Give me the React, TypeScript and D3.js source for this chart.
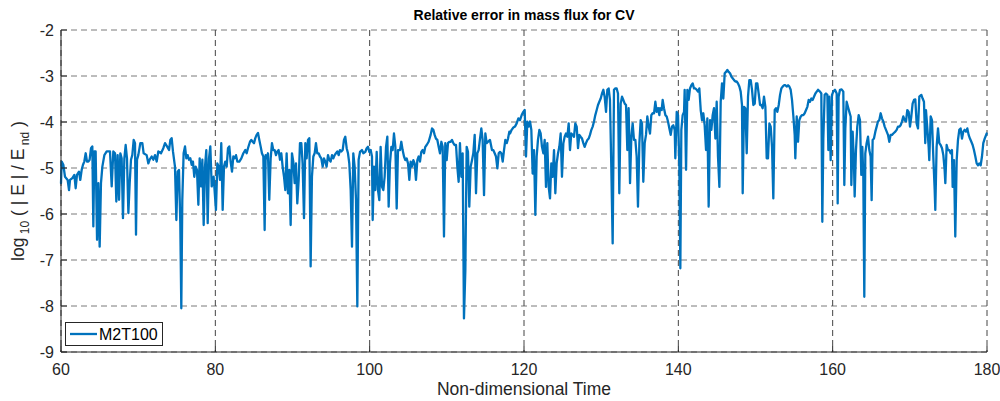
import React from "react";
import * as d3 from "d3";

// Time samples (non-dimensional time) and log10(|E|/E_nd) values
const timeA = [60,60.09,60.3,60.52,60.86,61.04,61.17,61.47,61.73,61.9,62.07,62.33,62.5,62.68,62.85,63.02,63.2,63.37,63.54,63.71,63.89,64.06,64.19,64.32,64.49,64.67,64.84,65.01,65.18,65.36,65.62,65.92,66.35,66.57,66.78,67.0,67.17,67.34,67.52,67.69,67.86,68.03,68.21,68.38,68.55,68.73,68.9,69.07,69.24,69.42,69.59,69.72,69.85,70.02,70.28,70.54,70.71,71.1,71.32,71.49,71.75,71.97,72.18,72.4,72.61,72.96,73.26,73.48,73.74,74.0,74.17,74.34,74.51,74.77,74.95,75.12,75.29,75.46,75.59,75.72,75.89,76.07,76.24,76.41,76.58,76.76,76.93,77.1,77.27,77.45,77.62,77.8,77.97,78.14,78.32,78.49,78.66,78.83,79.01,79.18,79.35,79.53,79.78];
const valueA = [-5.33,-4.86,-4.93,-5.19,-5.26,-5.48,-5.26,-5.22,-5.15,-5.44,-5.15,-5.08,-5.26,-5.04,-4.93,-4.86,-4.68,-4.86,-4.86,-4.82,-4.57,-4.53,-6.27,-4.64,-4.64,-6.56,-5.33,-6.71,-5.33,-4.97,-4.72,-4.64,-4.64,-5.4,-4.64,-4.68,-5.73,-4.72,-5.69,-4.68,-4.79,-6.09,-4.79,-4.5,-4.79,-5.98,-5.33,-4.82,-4.72,-4.39,-4.46,-6.45,-4.82,-4.72,-4.46,-4.46,-4.68,-4.72,-4.9,-4.82,-4.75,-4.82,-4.72,-4.86,-4.64,-4.68,-4.57,-4.46,-4.53,-4.61,-4.39,-4.35,-4.64,-4.97,-6.13,-5.08,-5.04,-6.2,-8.05,-5.69,-4.68,-4.53,-4.79,-4.72,-4.82,-4.79,-4.93,-4.86,-5.19,-4.97,-5.04,-5.8,-4.79,-5.4,-4.82,-6.24,-4.97,-4.61,-6.2,-4.79,-4.53,-5.4,-5.19];

const timeB = [80.08,80.26,80.43,80.6,80.77,80.95,81.12,81.29,81.47,81.64,81.81,81.98,82.16,82.33,82.5,82.68,82.85,83.11,83.37,83.63,83.88,84.06,84.23,84.49,84.66,84.83,85.01,85.18,85.35,85.53,85.7,85.87,86.04,86.22,86.39,86.52,86.65,86.82,86.99,87.17,87.34,87.51,87.69,87.86,88.03,88.2,88.38,88.55,88.72,88.9,89.07,89.24,89.41,89.59,89.76,89.93,90.1,90.28,90.45,90.62,90.8,90.97,91.14,91.31,91.49,91.66,91.83,92.01,92.18,92.35,92.52,92.7,92.87,93.04,93.21,93.39,93.56,93.73,93.91,94.08,94.25,94.42,94.6,94.77,94.94,95.12,95.29,95.46,95.63,95.81,95.98,96.15,96.33,96.5,96.67,96.84,97.02,97.19,97.36,97.54,97.71,97.88,98.05,98.23,98.4,98.57];
const valueB = [-5.91,-4.9,-4.97,-5.26,-4.46,-5.91,-4.97,-4.86,-4.97,-4.57,-4.53,-4.86,-5.08,-4.75,-4.79,-4.72,-4.86,-4.86,-4.79,-4.68,-4.61,-4.68,-4.57,-4.43,-4.39,-4.43,-4.46,-4.35,-4.28,-4.24,-4.39,-4.53,-4.68,-4.75,-6.35,-4.72,-4.79,-4.68,-5.69,-4.79,-4.46,-4.61,-4.61,-4.72,-4.64,-4.61,-4.82,-4.68,-4.97,-5.19,-5.48,-4.68,-5.55,-5.04,-6.24,-4.68,-4.86,-5.33,-4.9,-5.77,-5.26,-4.46,-4.46,-4.9,-6.09,-4.46,-4.79,-4.39,-4.35,-7.14,-5.19,-4.75,-4.68,-4.46,-4.68,-4.68,-4.75,-4.79,-4.97,-4.79,-4.86,-4.97,-4.72,-4.82,-4.86,-4.72,-4.79,-4.72,-4.68,-4.64,-4.72,-4.61,-4.64,-4.61,-4.39,-4.32,-4.57,-4.68,-4.9,-5.48,-6.71,-4.68,-4.97,-5.69,-8.01,-4.82];

const timeC = [98.75,99.0,99.18,99.44,99.61,99.78,99.96,100.13,100.3,100.39,100.56,100.73,100.91,101.08,101.25,101.42,101.6,101.77,101.94,102.12,102.29,102.46,102.63,102.81,102.98,103.15,103.33,103.5,103.67,103.93,104.1,104.27,104.45,104.62,104.79,104.97,105.14,105.31,105.48,105.66,105.83,106.0,106.18,106.35,106.52,106.69,106.87,107.04,107.21,107.39,107.64,107.9,108.08,108.25,108.42,108.59,108.77,108.94,109.11,109.29,109.46,109.63,109.8,109.98,110.15,110.32,110.5,110.67,110.84,111.01,111.19,111.36,111.53,111.7,111.88,112.05,112.22,112.4,112.57,112.74,112.91,113.09,113.26,113.43,113.61,113.78,113.95,114.12,114.3,114.47,114.64,114.82,114.99,115.16,115.33,115.59,115.85,116.03,116.2,116.37,116.55,116.72,116.89,117.06,117.24,117.41,117.58,117.76,117.93,118.1];
const valueC = [-4.65,-4.61,-4.68,-4.65,-4.57,-4.54,-4.65,-4.61,-4.75,-6.13,-4.97,-5.48,-4.65,-5.48,-5.7,-4.54,-5.41,-5.48,-5.19,-4.54,-4.32,-5.84,-4.9,-4.54,-4.61,-4.25,-4.54,-5.88,-4.61,-4.61,-4.43,-4.61,-4.75,-4.83,-4.79,-4.9,-5.26,-4.86,-4.97,-4.83,-4.9,-5.26,-4.83,-4.75,-4.86,-4.65,-4.61,-4.68,-4.54,-4.5,-4.43,-4.28,-4.14,-4.17,-4.28,-4.36,-4.39,-4.54,-4.68,-4.43,-4.54,-6.49,-4.46,-4.83,-4.46,-4.43,-4.43,-4.39,-4.46,-4.5,-4.5,-4.97,-5.3,-4.46,-5.19,-4.68,-8.27,-7.22,-4.54,-4.65,-5.84,-4.97,-4.83,-4.68,-4.28,-5.55,-4.68,-4.61,-4.36,-4.14,-4.39,-5.59,-4.25,-4.46,-4.43,-4.39,-4.61,-4.61,-4.68,-4.75,-5.01,-4.68,-4.65,-4.68,-4.86,-4.61,-4.39,-4.46,-4.36,-4.21];

const timeD = [118.19,118.4,118.62,118.83,119.05,119.27,119.48,119.7,119.91,120.09,120.26,120.43,120.6,120.78,120.95,121.12,121.3,121.47,121.64,121.81,121.99,122.16,122.33,122.51,122.68,122.85,123.02,123.2,123.37,123.54,123.72,123.89,124.06,124.23,124.41,124.58,124.75,124.92,125.1,125.27,125.44,125.62,125.79,125.96,126.13,126.31,126.48,126.65,126.83,127.0,127.17,127.34,127.52,127.69,127.86,128.03,128.21,128.38,128.55,128.73,128.9,129.07,129.24,129.42,129.59,129.76,129.94,130.11,130.28,130.45,130.63,130.8,130.97,131.14,131.32,131.49,131.66,131.84,132.01,132.18,132.35,132.53,132.7,132.87,133.05,133.22,133.39,133.56,133.74,133.91,134.08,134.25,134.43,134.6,134.77,134.95,135.12,135.29,135.46,135.64,135.81,135.98,136.16,136.33,136.5,136.67,136.85,137.02,137.19,137.37,137.54];
const valueD = [-4.25,-4.17,-4.12,-4.1,-4.03,-3.92,-3.96,-3.85,-3.78,-3.74,-4.75,-3.99,-4.1,-3.99,-4.17,-5.12,-4.61,-6.02,-4.75,-4.39,-4.17,-4.25,-4.54,-4.68,-4.39,-5.41,-4.46,-5.41,-5.66,-4.9,-5.19,-4.61,-5.55,-4.9,-4.68,-4.54,-4.25,-5.19,-4.46,-4.32,-4.25,-4.32,-4.03,-4.61,-4.25,-4.28,-4.32,-4.03,-4.1,-4.57,-4.28,-4.32,-4.36,-4.46,-4.54,-4.46,-4.39,-4.36,-4.28,-4.17,-4.1,-3.99,-3.85,-3.74,-3.63,-3.56,-3.49,-3.38,-3.3,-3.45,-3.78,-3.3,-3.27,-3.52,-5.04,-6.64,-3.3,-3.27,-3.27,-3.38,-5.55,-3.6,-3.45,-3.52,-3.6,-3.63,-4.61,-3.7,-5.33,-4.32,-4.03,-4.39,-4.39,-4.75,-5.84,-4.46,-3.96,-4.03,-5.3,-4.46,-4.28,-3.88,-4.1,-4.25,-3.85,-3.81,-3.81,-3.56,-3.78,-3.7,-3.85];

const timeE = [137.63,137.84,137.97,138.14,138.32,138.49,138.66,138.84,139.01,139.18,139.35,139.53,139.61,139.79,139.96,140.13,140.26,140.39,140.56,140.74,140.82,141.0,141.17,141.34,141.51,141.69,141.86,142.03,142.21,142.38,142.55,142.72,142.9,143.07,143.24,143.41,143.59,143.76,143.93,144.11,144.28,144.45,144.62,144.8,144.97,145.14,145.32,145.49,145.66,145.83,146.01,146.18,146.35,146.52,146.7,146.87,147.04,147.22,147.39,147.56,147.73,147.91,148.08,148.25,148.34,148.51,148.69,148.86,149.03,149.2,149.38,149.55,149.72,149.9,150.07,150.24,150.41,150.59,150.76,150.93,151.1,151.28,151.45,151.62,151.8,151.97,152.14,152.31,152.49,152.66,152.83,153.01,153.18,153.35,153.52,153.7,153.87,154.04,154.22,154.39,154.56,154.73,154.91,155.08,155.16,155.34,155.51,155.68,155.86,156.03,156.2,156.37,156.55,156.72,156.89,157.06,157.24,157.41,157.58,157.76,157.93,158.1];
const valueE = [-3.7,-3.74,-3.52,-3.7,-3.85,-3.88,-3.99,-4.14,-4.28,-4.1,-4.07,-4.17,-4.79,-3.78,-3.85,-4.94,-7.18,-4.17,-3.85,-3.78,-3.3,-5.04,-3.3,-3.52,-3.27,-3.2,-3.16,-3.27,-3.27,-3.3,-3.34,-3.27,-3.74,-3.96,-3.81,-4.07,-4.61,-3.92,-5.84,-3.96,-4.17,-3.85,-3.7,-4.36,-3.56,-4.75,-5.41,-3.56,-3.16,-3.49,-2.94,-2.91,-2.87,-2.91,-2.94,-3.01,-3.05,-3.09,-3.12,-3.12,-3.16,-3.23,-3.34,-3.63,-5.55,-3.67,-3.7,-4.68,-3.45,-3.09,-3.09,-3.3,-3.63,-3.6,-3.16,-3.16,-3.38,-3.63,-3.63,-3.7,-3.45,-3.67,-4.79,-4.79,-4.03,-4.1,-4.54,-5.66,-3.74,-3.7,-3.78,-3.63,-3.41,-3.27,-3.23,-3.2,-3.2,-3.23,-3.2,-3.23,-3.3,-3.52,-3.88,-4.28,-4.79,-3.88,-4.43,-3.96,-3.88,-3.85,-3.85,-3.81,-3.74,-3.67,-3.52,-3.56,-3.49,-3.52,-3.45,-3.38,-3.34,-3.3];

const timeF = [158.36,158.53,158.66,158.79,158.96,159.13,159.31,159.44,159.56,159.74,159.91,160.08,160.3,160.52,160.65,160.77,160.95,161.16,161.38,161.51,161.64,161.81,161.98,162.16,162.33,162.42,162.59,162.76,162.85,163.02,163.19,163.37,163.54,163.71,163.84,163.97,164.1,164.23,164.4,164.58,164.75,164.92,165.05,165.18,165.35,165.53,165.7,165.87,166.04,166.22,166.39,166.56,166.74,166.91,167.17,167.34,167.51,167.69,167.86,168.12,168.29,168.46,168.64,168.81,168.98,169.15,169.33,169.5,169.67,169.85,170.02,170.19,170.36,170.54,170.71,170.88,171.06,171.23,171.49,171.66,171.83,172.0,172.09,172.27,172.44,172.52,172.7,172.87,173.04,173.22,173.3,173.47,173.65,173.82,173.99,174.17,174.34,174.51,174.6,174.77,174.94,175.12,175.29,175.46,175.55,175.72,175.89,176.07,176.24,176.41,176.58,176.76,176.93,177.1,177.28,177.45,177.62,177.79,177.97,178.14,178.31,178.49,178.66,178.83,179.0,179.18,179.35,179.52,179.7,179.96];
const valueF = [-3.34,-3.38,-6.17,-4.36,-3.41,-3.38,-3.41,-4.61,-3.45,-4.83,-3.41,-3.34,-3.3,-3.38,-5.77,-3.45,-3.3,-3.29,-3.34,-5.37,-4.14,-3.56,-3.67,-3.78,-3.88,-5.37,-4.21,-4.9,-5.62,-4.61,-4.1,-3.85,-3.96,-5.15,-4.54,-5.15,-7.8,-4.68,-4.46,-4.32,-4.61,-4.75,-5.7,-4.39,-4.36,-4.21,-4.1,-3.99,-3.96,-3.81,-3.92,-3.99,-4.1,-4.17,-4.28,-4.43,-4.28,-4.28,-4.25,-4.21,-4.17,-4.1,-4.1,-4.07,-3.99,-3.88,-3.96,-3.99,-3.74,-3.78,-4.1,-3.88,-3.6,-3.52,-3.51,-4.03,-4.14,-3.45,-3.41,-3.49,-3.56,-4.46,-3.74,-4.14,-4.54,-4.83,-3.88,-3.96,-4.75,-5.48,-5.91,-4.54,-4.14,-4.46,-4.5,-4.57,-4.72,-5.04,-5.33,-4.5,-4.61,-4.61,-4.68,-4.61,-5.41,-4.83,-6.49,-4.83,-4.39,-4.17,-4.14,-4.36,-4.21,-4.17,-4.21,-4.14,-4.28,-4.36,-4.43,-4.5,-4.61,-4.75,-4.9,-4.94,-4.9,-4.94,-4.75,-4.46,-4.36,-4.25];

const xTicks = [60, 80, 100, 120, 140, 160, 180];
const yTicks = [-2, -3, -4, -5, -6, -7, -8, -9];
const seriesName = "M2T100";
const titleText = "Relative error in mass flux for CV";
const xLabelText = "Non-dimensional Time";

const times = [...timeA, ...timeB, ...timeC, ...timeD, ...timeE, ...timeF];
const values = [...valueA, ...valueB, ...valueC, ...valueD, ...valueE, ...valueF];

export default function App() {
  const W = 1000, H = 401;
  const left = 61, right = 987, top = 30, bottom = 352;
  const x = d3.scaleLinear().domain([60, 180]).range([left, right]);
  const y = d3.scaleLinear().domain([-9, -2]).range([bottom, top]);
  const pts: [number, number][] = times.map((t, i) => [t, values[i]]);
  const line = d3.line<[number, number]>().x(d => x(d[0])).y(d => y(d[1]));
  const font = "'Liberation Sans', Arial, Helvetica, sans-serif";
  const blue = "#0072BD";
  const tickFs = 16;
  const labelFs = 17.5;

  return (
    <div style={{ position: "absolute", left: 0, top: 0 }}>
      <svg width={W} height={H} style={{ display: "block", fontFamily: font }}>
        <rect x={0} y={0} width={W} height={H} fill="#fff" />
        {yTicks.map(v => (
          <line key={"gy" + v} x1={left} x2={right} y1={y(v)} y2={y(v)}
            stroke="#7a7a7a" strokeWidth={1} strokeDasharray="6,4" />
        ))}
        {xTicks.map(v => (
          <line key={"gx" + v} x1={x(v)} x2={x(v)} y1={top} y2={bottom}
            stroke="#444" strokeWidth={1} strokeDasharray="6,4" />
        ))}
        <path d={line(pts) || ""} fill="none" stroke={blue} strokeWidth={2.3}
          strokeLinejoin="round" strokeLinecap="round" />
        <line x1={left} x2={left} y1={top} y2={bottom} stroke="#262626" strokeWidth={1} />
        <line x1={left} x2={right} y1={bottom} y2={bottom} stroke="#262626" strokeWidth={1} />
        {xTicks.map(v => (
          <g key={"xt" + v}>
            <line x1={x(v)} x2={x(v)} y1={bottom} y2={bottom - 6} stroke="#262626" />
            <text x={x(v)} y={375} textAnchor="middle" fontSize={tickFs} fill="#262626">{v}</text>
          </g>
        ))}
        {yTicks.map(v => (
          <g key={"yt" + v}>
            <line x1={left} x2={left + 6} y1={y(v)} y2={y(v)} stroke="#262626" />
            <text x={54} y={y(v) + 6} textAnchor="end" fontSize={tickFs} fill="#262626">{v}</text>
          </g>
        ))}
        <text x={(left + right) / 2} y={20} textAnchor="middle" fontSize={14}
          fontWeight="bold" fill="#000">{titleText}</text>
        <text x={(left + right) / 2} y={395} textAnchor="middle" fontSize={labelFs}
          fill="#262626">{xLabelText}</text>
        <text transform={`translate(24,${(top + bottom) / 2}) rotate(-90)`} textAnchor="middle"
          fontSize={labelFs} fill="#262626">
          <tspan>log</tspan>
          <tspan fontSize={12} dy={5}> 10</tspan>
          <tspan dy={-5}>  ( | E | / E</tspan>
          <tspan fontSize={12} dy={5}> nd</tspan>
          <tspan dy={-5}>  )</tspan>
        </text>
        <rect x={65.5} y={322.5} width={97} height={23} fill="#fff" stroke="#262626" strokeWidth={1} />
        <line x1={70} x2={97} y1={334} y2={334} stroke={blue} strokeWidth={2.3} />
        <text x={99} y={340} fontSize={tickFs} fill="#000">{seriesName}</text>
      </svg>
    </div>
  );
}
